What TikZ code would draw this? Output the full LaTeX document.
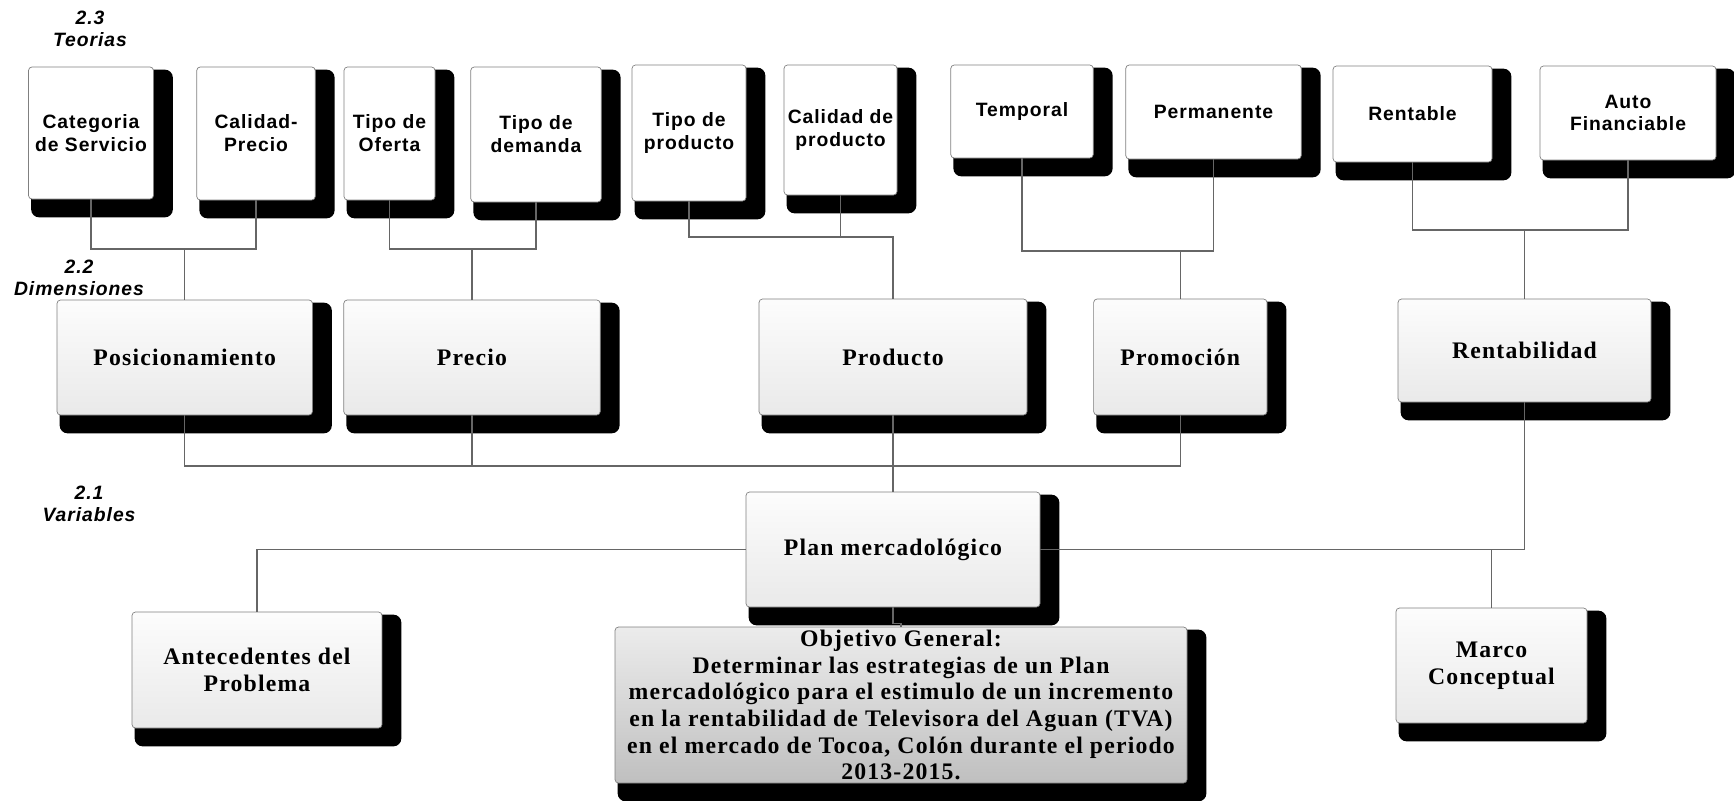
\documentclass[tikz,border=0pt]{standalone}
\usepackage{fontspec}
\setmainfont{Liberation Serif}
\newfontfamily\teofont[LetterSpace=5]{Liberation Sans}
\newfontfamily\dimfont[LetterSpace=5]{Liberation Serif}
\usetikzlibrary{backgrounds}
\tikzset{
  sz/.style 2 args={minimum width=#1*0.02cm, minimum height=#2*0.02cm},
  teo/.style={draw=gray, rounded corners=2pt, fill=white, align=center, inner sep=1pt,
    font=\teofont\bfseries\fontsize{11}{13}\selectfont},
  dim/.style={draw=gray, rounded corners=2pt, top color=gray!2, bottom color=gray!17, align=center, inner sep=1pt,
    font=\dimfont\bfseries\fontsize{13.5}{15.2}\selectfont},
  obj/.style={dim, top color=gray!15, bottom color=gray!50, middle color=gray!32},
  lvl/.style={align=center, font=\teofont\bfseries\itshape\fontsize{11}{12.5}\selectfont},
  wire/.style={draw=gray!80!black, line width=0.6pt},
  shd/.style={fill=black, rounded corners=4.5pt},
}
\begin{document}
\begin{tikzpicture}[x=0.02cm,y=-0.02cm]
\useasboundingbox (0,0) rectangle (1734,801);
\node[lvl] (l3) at (90,28.5) {2.3\\Teorias};
\node[lvl] (l2) at (79,278) {2.2\\Dimensiones};
\node[lvl] (l1) at (89,504) {2.1\\Variables};

\node[teo, sz={125}{132}] (cat) at (91,133) {Categoria\\de Servicio};
\node[teo, sz={118.5}{133}] (cpr) at (256,133.5) {Calidad-\\Precio};
\node[teo, sz={91}{133}] (tof) at (389.5,133.5) {Tipo de\\Oferta};
\node[teo, sz={130.5}{135}] (tde) at (536,134.5) {Tipo de\\demanda};
\node[teo, sz={114}{136}] (tpr) at (689,133) {Tipo de\\producto};
\node[teo, sz={113}{130}] (cdp) at (840.5,130) {Calidad de\\producto};
\node[teo, sz={142.5}{93}] (tem) at (1022,111.5) {Temporal};
\node[teo, sz={175.5}{94}] (per) at (1213.5,112) {Permanente};
\node[teo, sz={159}{96}] (ren) at (1412.5,114) {Rentable};
\node[teo, sz={176}{94}] (aut) at (1628,113) {Auto\\Financiable};

\node[dim, sz={255.5}{115}] (pos) at (184.75,357.5) {Posicionamiento};
\node[dim, sz={256.5}{115}] (pre) at (472,357.5) {Precio};
\node[dim, sz={268}{116}] (pro) at (893,357) {Producto};
\node[dim, sz={173.4}{116}] (prm) at (1180.3,357) {Promoción};
\node[dim, sz={253}{103}] (rnt) at (1524.5,350.5) {Rentabilidad};

\node[dim, sz={294}{115}] (pla) at (893,549.5) {Plan mercadológico};
\node[dim, sz={250}{116}] (ant) at (257,670) {Antecedentes del\\Problema};
\node[dim, sz={191}{115}] (mar) at (1491.5,665.5) {Marco\\Conceptual};
\node[obj, sz={572}{156}] (obj) at (901,705) {Objetivo General:\\Determinar las estrategias de un Plan\\mercadológico para el estimulo de un incremento\\en la rentabilidad de Televisora del Aguan (TVA)\\en el mercado de Tocoa, Colón durante el periodo\\2013-2015.};

\begin{scope}[on background layer]
\foreach \n in {cat,cpr,tof,tde,tpr,cdp,tem,per,ren,aut,pos,pre,pro,prm,rnt,pla,ant,mar,obj}
  \fill[shd] ([shift={(3,3)}]\n.north west) rectangle ([shift={(19,18)}]\n.south east);
\end{scope}

\coordinate (barA) at (0,249);
\coordinate (barB) at (0,237);
\coordinate (barC) at (0,251);
\coordinate (barD) at (0,230);
\coordinate (barE) at (0,466);

\draw[wire] (cat.south) |- (barA -| pos.north) -| (cpr.south);
\draw[wire] (pos.north) -- (barA -| pos.north);
\draw[wire] (tof.south) |- (barA -| pre.north) -| (tde.south);
\draw[wire] (pre.north) -- (barA -| pre.north);
\draw[wire] (tpr.south) |- (barB -| pro.north) -- (pro.north);
\draw[wire] (cdp.south) -- (cdp.south |- barB);
\draw[wire] (tem.south) |- (barC -| prm.north) -| (per.south);
\draw[wire] (prm.north) -- (barC -| prm.north);
\draw[wire] (ren.south) |- (barD -| rnt.north) -| (aut.south);
\draw[wire] (rnt.north) -- (barD -| rnt.north);
\draw[wire] (pos.south) |- (barE -| prm.south) -- (prm.south);
\draw[wire] (pre.south) -- (pre.south |- barE);
\draw[wire] (pro.south) -- (pla.north);
\draw[wire] (rnt.south) |- (pla.east);
\draw[wire] (mar.north) -- (mar.north |- pla.east);
\draw[wire] (pla.west) -| (ant.north);
\draw[wire] (pla.south) -- ++(0,16) -| (obj.north);
\end{tikzpicture}
\end{document}
